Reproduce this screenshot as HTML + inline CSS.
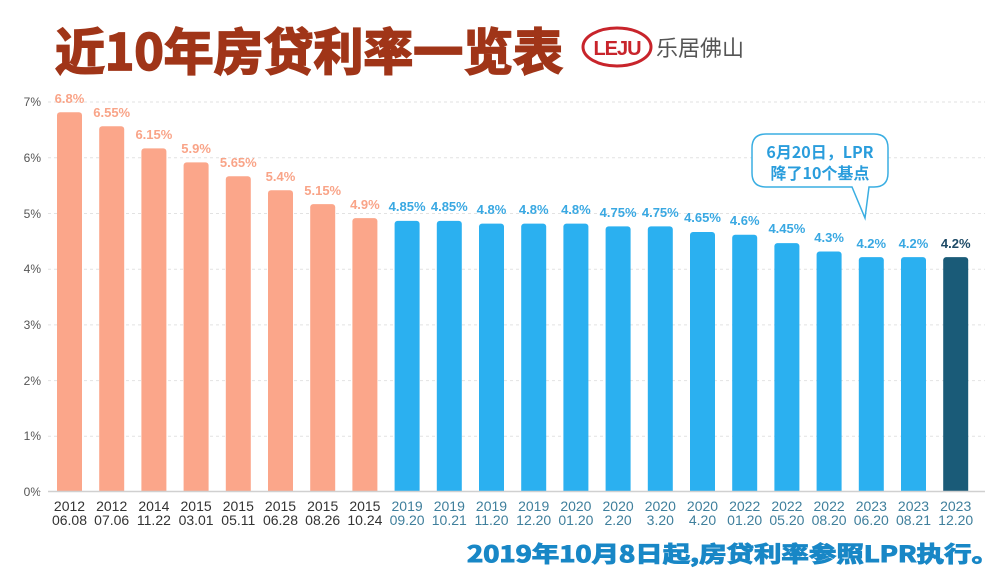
<!DOCTYPE html>
<html><head><meta charset="utf-8"><style>
html,body{margin:0;padding:0;background:#fff;}
svg{display:block;font-family:"Liberation Sans","Noto Sans CJK SC",sans-serif;}
</style></head><body>
<svg width="1008" height="577" viewBox="0 0 1008 577" xmlns="http://www.w3.org/2000/svg">
<rect width="1008" height="577" fill="#fff"/>
<!-- title -->
<text x="55" y="70" font-size="50" font-weight="bold" fill="#a03518" stroke="#a03518" stroke-width="1.8" font-family="'Noto Sans CJK SC','WenQuanYi Zen Hei',sans-serif" textLength="508" lengthAdjust="spacingAndGlyphs">近10年房贷利率一览表</text>
<!-- logo -->
<ellipse cx="617" cy="47" rx="34" ry="19" fill="none" stroke="#c8242b" stroke-width="3"/>
<text x="617" y="55" font-size="20" font-weight="bold" fill="#c8242b" text-anchor="middle" letter-spacing="-1">LEJU</text>
<text x="656" y="56" font-size="22" fill="#555" font-family="'Noto Sans CJK SC',sans-serif">乐居佛山</text>
<!-- gridlines -->
<g stroke="#e2e2e2" stroke-dasharray="3,3" stroke-width="1">
<line x1="48" y1="102" x2="985" y2="102"/>
<line x1="48" y1="157.8" x2="985" y2="157.8"/>
<line x1="48" y1="213.5" x2="985" y2="213.5"/>
<line x1="48" y1="269.2" x2="985" y2="269.2"/>
<line x1="48" y1="324.9" x2="985" y2="324.9"/>
<line x1="48" y1="380.6" x2="985" y2="380.6"/>
<line x1="48" y1="436.3" x2="985" y2="436.3"/>
</g>
<g font-size="12" fill="#555" text-anchor="end">
<text x="41" y="106">7%</text>
<text x="41" y="162">6%</text>
<text x="41" y="218">5%</text>
<text x="41" y="273">4%</text>
<text x="41" y="329">3%</text>
<text x="41" y="385">2%</text>
<text x="41" y="440">1%</text>
<text x="41" y="496">0%</text>
</g>
<!-- bars -->
<g fill="#fba68a">
<rect x="57" y="112.2" width="25" height="383" rx="3"/>
<rect x="99.2" y="126.2" width="25" height="369" rx="3"/>
<rect x="141.4" y="148.4" width="25" height="347" rx="3"/>
<rect x="183.6" y="162.4" width="25" height="333" rx="3"/>
<rect x="225.8" y="176.3" width="25" height="319" rx="3"/>
<rect x="268" y="190.2" width="25" height="305" rx="3"/>
<rect x="310.2" y="204.1" width="25" height="291" rx="3"/>
<rect x="352.4" y="218.1" width="25" height="277" rx="3"/>
</g>
<g fill="#2bb0f0">
<rect x="394.6" y="220.9" width="25" height="275" rx="3"/>
<rect x="436.8" y="220.9" width="25" height="275" rx="3"/>
<rect x="479" y="223.6" width="25" height="272" rx="3"/>
<rect x="521.2" y="223.6" width="25" height="272" rx="3"/>
<rect x="563.4" y="223.6" width="25" height="272" rx="3"/>
<rect x="605.6" y="226.4" width="25" height="269" rx="3"/>
<rect x="647.8" y="226.4" width="25" height="269" rx="3"/>
<rect x="690" y="232" width="25" height="264" rx="3"/>
<rect x="732.2" y="234.8" width="25" height="261" rx="3"/>
<rect x="774.4" y="243.1" width="25" height="252" rx="3"/>
<rect x="816.6" y="251.5" width="25" height="244" rx="3"/>
<rect x="858.8" y="257.1" width="25" height="238" rx="3"/>
<rect x="901" y="257.1" width="25" height="238" rx="3"/>
</g>
<rect x="943.2" y="257.1" width="25" height="238" rx="3" fill="#1a5b78"/>
<rect x="40" y="492" width="950" height="10" fill="#fff"/>
<line x1="48" y1="491.5" x2="985" y2="491.5" stroke="#d0d0d0" stroke-width="1.5"/>
<!-- value labels -->
<g font-size="13" font-weight="bold" text-anchor="middle" fill="#f9a488">
<text x="69.5" y="103">6.8%</text>
<text x="111.7" y="117">6.55%</text>
<text x="153.9" y="139">6.15%</text>
<text x="196.1" y="153">5.9%</text>
<text x="238.3" y="167">5.65%</text>
<text x="280.5" y="181">5.4%</text>
<text x="322.7" y="195">5.15%</text>
<text x="364.9" y="209">4.9%</text>
</g>
<g font-size="13" font-weight="bold" text-anchor="middle" fill="#39a8e2">
<text x="407.1" y="211">4.85%</text>
<text x="449.3" y="211">4.85%</text>
<text x="491.5" y="214">4.8%</text>
<text x="533.7" y="214">4.8%</text>
<text x="575.9" y="214">4.8%</text>
<text x="618.1" y="217">4.75%</text>
<text x="660.3" y="217">4.75%</text>
<text x="702.5" y="222">4.65%</text>
<text x="744.7" y="225">4.6%</text>
<text x="786.9" y="233">4.45%</text>
<text x="829.1" y="242">4.3%</text>
<text x="871.3" y="248">4.2%</text>
<text x="913.5" y="248">4.2%</text>
</g>
<text x="955.7" y="248" font-size="13" font-weight="bold" text-anchor="middle" fill="#1d4a66">4.2%</text>
<!-- x labels -->
<g font-size="14" text-anchor="middle" fill="#333">
<text x="69.5" y="511">2012</text><text x="69.5" y="525">06.08</text>
<text x="111.7" y="511">2012</text><text x="111.7" y="525">07.06</text>
<text x="153.9" y="511">2014</text><text x="153.9" y="525">11.22</text>
<text x="196.1" y="511">2015</text><text x="196.1" y="525">03.01</text>
<text x="238.3" y="511">2015</text><text x="238.3" y="525">05.11</text>
<text x="280.5" y="511">2015</text><text x="280.5" y="525">06.28</text>
<text x="322.7" y="511">2015</text><text x="322.7" y="525">08.26</text>
<text x="364.9" y="511">2015</text><text x="364.9" y="525">10.24</text>
</g>
<g font-size="14" text-anchor="middle" fill="#3f7f9c">
<text x="407.1" y="511">2019</text><text x="407.1" y="525">09.20</text>
<text x="449.3" y="511">2019</text><text x="449.3" y="525">10.21</text>
<text x="491.5" y="511">2019</text><text x="491.5" y="525">11.20</text>
<text x="533.7" y="511">2019</text><text x="533.7" y="525">12.20</text>
<text x="575.9" y="511">2020</text><text x="575.9" y="525">01.20</text>
<text x="618.1" y="511">2020</text><text x="618.1" y="525">2.20</text>
<text x="660.3" y="511">2020</text><text x="660.3" y="525">3.20</text>
<text x="702.5" y="511">2020</text><text x="702.5" y="525">4.20</text>
<text x="744.7" y="511">2022</text><text x="744.7" y="525">01.20</text>
<text x="786.9" y="511">2022</text><text x="786.9" y="525">05.20</text>
<text x="829.1" y="511">2022</text><text x="829.1" y="525">08.20</text>
<text x="871.3" y="511">2023</text><text x="871.3" y="525">06.20</text>
<text x="913.5" y="511">2023</text><text x="913.5" y="525">08.21</text>
<text x="955.7" y="511">2023</text><text x="955.7" y="525">12.20</text>
</g>
<!-- callout -->
<path d="M766,134 H874 Q888,134 888,148 V173 Q888,187 874,187 H869 L865,218 L852,187 H766 Q752,187 752,173 V148 Q752,134 766,134 Z" fill="#fff" stroke="#3aaee2" stroke-width="1.5"/>
<g font-size="16" font-weight="bold" fill="#2a9ddc" text-anchor="middle" font-family="'Noto Sans CJK SC',sans-serif">
<text x="820" y="158">6月20日，LPR</text>
<text x="820" y="179">降了10个基点</text>
</g>
<!-- bottom note -->
<text x="467" y="562" font-size="22" font-weight="bold" fill="#1887c6" stroke="#1887c6" stroke-width="1" font-family="'Noto Sans CJK SC','WenQuanYi Zen Hei',sans-serif" textLength="532" lengthAdjust="spacingAndGlyphs">2019年10月8日起,房贷利率参照LPR执行。</text>
</svg>
</body></html>
